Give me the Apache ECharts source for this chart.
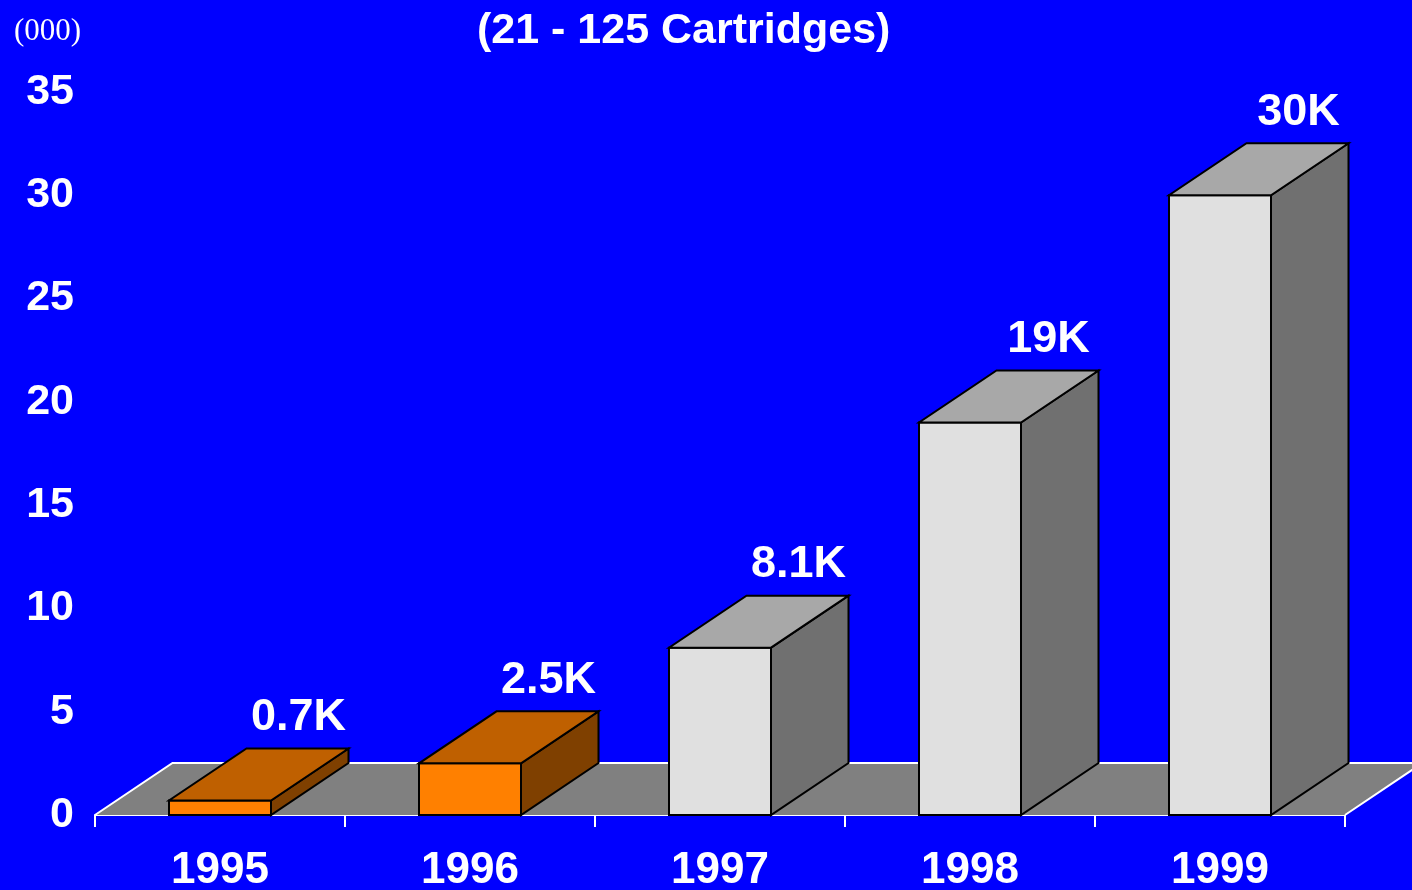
<!DOCTYPE html>
<html>
<head>
<meta charset="utf-8">
<style>
  html, body { margin: 0; padding: 0; background: #0000FF; }
  #chart { width: 1412px; height: 890px; }
</style>
<script src="https://cdn.jsdelivr.net/npm/echarts@6/dist/echarts.min.js"></script>
</head>
<body>
<div id="chart"></div>
<script>
const years = ['1995', '1996', '1997', '1998', '1999'];
const values = [0.7, 2.5, 8.1, 19, 30];
const valueLabels = ['0.7K', '2.5K', '8.1K', '19K', '30K'];
const barKind = ['actual', 'actual', 'projected', 'projected', 'projected'];
const titleText = '(21 - 125 Cartridges)';
const unitText = '(000)';

const DX = 77.5, DY = -52;
const BAR_FRAC = 0.408;
const palette = {
  actual:    { front: '#FF8000', top: '#BF6000', side: '#7F4000' },
  projected: { front: '#E0E0E0', top: '#A8A8A8', side: '#707070' }
};
const FONT = 'Liberation Sans, Arial, sans-serif';

const chart = echarts.init(document.getElementById('chart'));

function renderFloor(params, api) {
  const band = api.size([1, 0])[0];
  const p0 = api.coord([0, 0]);
  const pN = api.coord([years.length - 1, 0]);
  const left = p0[0] - band / 2, right = pN[0] + band / 2, y0 = p0[1];
  return {
    type: 'group',
    children: [
      { type: 'polygon', shape: { points: [[left, y0], [right, y0], [right + DX, y0 + DY], [left + DX, y0 + DY]] },
        style: { fill: '#808080', stroke: null } },
      { type: 'polyline', shape: { points: [[left, y0], [left + DX, y0 + DY], [right + DX, y0 + DY], [right, y0]] },
        style: { stroke: '#FFFFFF', lineWidth: 2, fill: null } }
    ]
  };
}

function renderBar(params, api) {
  const i = api.value(0);
  const v = api.value(1);
  const band = api.size([1, 0])[0];
  const w = band * BAR_FRAC;
  const base = api.coord([i, 0]);
  const top = api.coord([i, v]);
  const x0 = base[0] - w / 2, x1 = base[0] + w / 2;
  const y0 = base[1], yt = top[1];
  const c = palette[barKind[i]];
  const stroke = { stroke: '#000000', lineWidth: 2, lineJoin: 'miter' };
  return {
    type: 'group',
    children: [
      { type: 'polygon', shape: { points: [[x0, yt], [x1, yt], [x1, y0], [x0, y0]] },
        style: Object.assign({ fill: c.front }, stroke) },
      { type: 'polygon', shape: { points: [[x1, yt], [x1 + DX, yt + DY], [x1 + DX, y0 + DY], [x1, y0]] },
        style: Object.assign({ fill: c.side }, stroke) },
      { type: 'polygon', shape: { points: [[x0, yt], [x1, yt], [x1 + DX, yt + DY], [x0 + DX, yt + DY]] },
        style: Object.assign({ fill: c.top }, stroke) },
      { type: 'text',
        style: { x: base[0] + DX + 1, y: yt + DY - 31, text: valueLabels[i], fill: '#FFFFFF',
                 font: 'bold 45px ' + FONT, align: 'center', verticalAlign: 'middle' } }
    ]
  };
}

chart.setOption({
  backgroundColor: '#0000FF',
  animation: false,
  title: [
    { text: titleText, left: 472, top: 5,
      textStyle: { color: '#FFFFFF', fontSize: 43, fontWeight: 'bold', fontFamily: FONT } },
    { text: unitText, left: 9, top: 11,
      textStyle: { color: '#FFFFFF', fontSize: 31, fontWeight: 'normal', fontFamily: 'Liberation Serif, Times New Roman, serif' } }
  ],
  grid: { left: 95, right: 67, top: 92, bottom: 75, containLabel: false, outerBoundsMode: 'none' },
  xAxis: {
    type: 'category',
    data: years,
    axisLine: { lineStyle: { color: '#FFFFFF', width: 2 } },
    axisTick: { show: true, length: 12, lineStyle: { color: '#FFFFFF', width: 2 } },
    axisLabel: { color: '#FFFFFF', fontSize: 44, fontWeight: 'bold', fontFamily: FONT, margin: 34 },
    splitLine: { show: false }
  },
  yAxis: {
    type: 'value',
    min: 0, max: 35, interval: 5,
    axisLine: { show: false },
    axisTick: { show: false },
    splitLine: { show: false },
    axisLabel: { color: '#FFFFFF', fontSize: 43, fontWeight: 'bold', fontFamily: FONT, margin: 21,
                 padding: [4, 0, 0, 0] }
  },
  series: [
    { type: 'custom', name: 'floor', renderItem: renderFloor, data: [[0, 0]], clip: false, z: 1, silent: true },
    { type: 'custom', name: 'bars', renderItem: renderBar, data: values.map((v, i) => [i, v]), clip: false, z: 3,
      encode: { x: 0, y: 1 } }
  ]
});
</script>
</body>
</html>
